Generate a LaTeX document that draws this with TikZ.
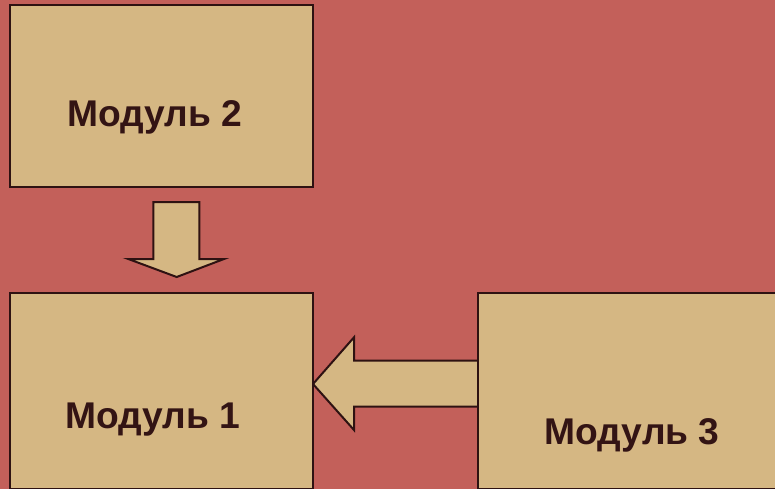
\documentclass[tikz,border=0pt]{standalone}
\usepackage{fontspec}
\setmainfont{Liberation Sans}
\definecolor{bgred}{HTML}{C3605A}
\definecolor{boxfill}{HTML}{D5B783}
\definecolor{edge}{HTML}{2E1212}
\definecolor{txt}{HTML}{331414}
\begin{document}
\begin{tikzpicture}[x=1pt,y=-1pt,
  modbox/.style={draw=edge,fill=boxfill,line width=2pt,rectangle,inner sep=0pt},
  lbl/.style={text=txt,font=\fontsize{37.2}{40}\selectfont\bfseries,anchor=base,inner sep=0pt},
  blockarrow/.style={draw=edge,fill=boxfill,line width=2pt,line join=miter}]
\fill[bgred] (0,0) rectangle (775,489);
\useasboundingbox (0,0) rectangle (775,489);
% block arrows
\draw[blockarrow] (153.3,202) -- (199.3,202) -- (199.3,259) -- (224,259) -- (176.7,277) -- (128.3,259) -- (153.3,259) -- cycle;
\draw[blockarrow] (480,360.7) -- (354,360.7) -- (354,337.3) -- (313,384) -- (354,430) -- (354,406.7) -- (480,406.7);
% boxes
\node[modbox,minimum width=303pt,minimum height=182pt] (m2) at (161.5,96) {};
\node[modbox,minimum width=303pt,minimum height=196pt] (m1) at (161.5,391) {};
\node[modbox,minimum width=312pt,minimum height=196pt] (m3) at (634,391) {};
% labels
\node[lbl] (t2) at (155,127) {Модуль 2};
\node[lbl] (t1) at (153,428) {Модуль 1};
\node[lbl] (t3) at (632,444) {Модуль 3};
\end{tikzpicture}
\end{document}
